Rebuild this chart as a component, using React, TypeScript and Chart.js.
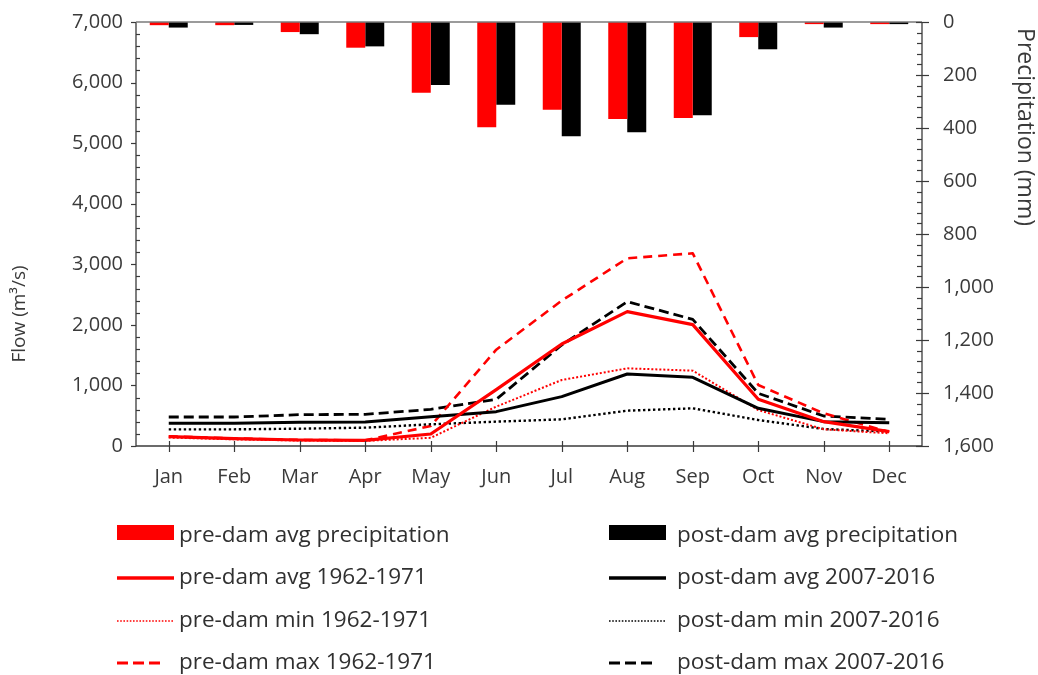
import { useEffect, useRef } from 'react';
import { Chart, registerables } from 'chart.js';

Chart.register(...registerables);

// Monthly categories
const months = ['Jan', 'Feb', 'Mar', 'Apr', 'May', 'Jun', 'Jul', 'Aug', 'Sep', 'Oct', 'Nov', 'Dec'];

// Average monthly precipitation (mm), right axis (reversed)
const precipPreDam = [12, 12, 38, 97, 267, 397, 331, 366, 362, 57, 8, 8];
const precipPostDam = [21, 11, 46, 92, 238, 312, 431, 416, 352, 103, 21, 8];

// Monthly flow (m³/s), left axis
const flowPreAvg = [154, 121, 99, 94, 198, 930, 1684, 2218, 2003, 771, 402, 237];
const flowPostAvg = [374, 374, 391, 396, 484, 567, 815, 1189, 1134, 622, 402, 385];
const flowPreMin = [140, 110, 90, 85, 135, 650, 1090, 1282, 1244, 594, 275, 209];
const flowPostMin = [275, 275, 286, 303, 358, 402, 440, 583, 622, 429, 281, 237];
const flowPreMax = [160, 125, 100, 94, 330, 1590, 2400, 3099, 3181, 1007, 539, 231];
const flowPostMax = [479, 479, 517, 523, 605, 770, 1667, 2383, 2091, 870, 495, 440];

// Axis ranges
const flowMax = 7000;
const flowStep = 1000;
const flowMinorStep = 200;
const precipMax = 1600;
const precipStep = 200;
const precipMinorStep = 40;

const FONT = '"Open Sans", "Noto Sans", sans-serif';
const TEXT = '#3a3a3a';
const AXIS = '#3a3a3a';
const RED = '#ff0000';
const BLACK = '#000000';

const fmt = (v: number) => Math.round(v).toLocaleString('en-US');

type Swatch = 'box' | 'solid' | 'dot' | 'dash';

// Axis lines, tick marks, axis titles and the two-column legend
const decorPlugin = {
  id: 'decor',
  afterDraw(chart: any) {
    const { ctx, chartArea: a, scales } = chart;
    const seg = (x1: number, y1: number, x2: number, y2: number) => {
      ctx.beginPath();
      ctx.moveTo(x1, y1);
      ctx.lineTo(x2, y2);
      ctx.stroke();
    };
    ctx.save();
    ctx.strokeStyle = AXIS;
    ctx.lineWidth = 1.3;
    ctx.setLineDash([]);
    seg(a.left, a.top, a.left, a.bottom + 0.5);
    seg(a.right, a.top, a.right, a.bottom + 0.5);
    seg(a.left, a.bottom, a.right, a.bottom);
    ctx.strokeStyle = '#7a7a7a';
    seg(a.left, a.top, a.right, a.top);
    ctx.strokeStyle = AXIS;
    ctx.lineWidth = 1.2;

    const y = scales.y;
    for (let v = 0; v <= flowMax; v += flowMinorStep) {
      const py = Math.round(y.getPixelForValue(v)) + 0.5;
      if (v % flowStep === 0) seg(a.left - 5, py, a.left, py);
      else seg(a.left, py, a.left + 4, py);
    }
    const y2 = scales.y2;
    for (let v = 0; v <= precipMax; v += precipMinorStep) {
      const py = Math.round(y2.getPixelForValue(v)) + 0.5;
      if (v % precipStep === 0) seg(a.right - 6, py, a.right + 7, py);
      else seg(a.right - 5, py, a.right, py);
    }
    const x = scales.x;
    months.forEach((_, i) => {
      const px = Math.round(x.getPixelForValue(i)) + 0.5;
      seg(px, a.bottom - 5, px, a.bottom + 6);
    });

    // Axis titles
    ctx.fillStyle = TEXT;
    ctx.textBaseline = 'middle';
    ctx.textAlign = 'center';
    ctx.font = `19px ${FONT}`;
    ctx.save();
    ctx.translate(20, 314);
    ctx.rotate(-Math.PI / 2);
    ctx.fillText('Flow (m³/s)', 0, 0);
    ctx.restore();
    ctx.save();
    ctx.font = `23px ${FONT}`;
    ctx.translate(1025, 127);
    ctx.rotate(Math.PI / 2);
    ctx.fillText('Precipitation (mm)', 0, 0);
    ctx.restore();

    // Legend: two columns, four rows
    const colSwatchX = [117, 609];
    const colTextX = [179, 677];
    const rowBase = [542, 584, 627, 669];
    ctx.font = `22.5px ${FONT}`;
    ctx.textAlign = 'left';
    ctx.textBaseline = 'alphabetic';
    chart.data.datasets.forEach((ds: any, i: number) => {
      const col = i % 2;
      const row = Math.floor(i / 2);
      const sx = colSwatchX[col];
      const base = rowBase[row];
      const kind: Swatch = ds.swatch;
      const color = ds.type === 'bar' ? ds.backgroundColor : ds.borderColor;
      if (kind === 'box') {
        ctx.fillStyle = color;
        ctx.fillRect(sx, base - 17, 57, 15);
      } else {
        ctx.strokeStyle = color;
        ctx.lineCap = 'butt';
        if (kind === 'solid') {
          ctx.lineWidth = 3.5;
          ctx.setLineDash([]);
          seg(sx, base - 6, sx + 57, base - 6);
        } else if (kind === 'dot') {
          ctx.lineWidth = 1.6;
          ctx.setLineDash([1.6, 1.6]);
          seg(sx, base - 6, sx + 57, base - 6);
        } else {
          ctx.lineWidth = 3;
          ctx.setLineDash([11, 5]);
          seg(sx, base - 6, sx + 43, base - 6);
        }
        ctx.setLineDash([]);
      }
      ctx.fillStyle = '#303030';
      ctx.fillText(ds.label, colTextX[col], base);
    });
    ctx.restore();
  },
};

// Fixed axis sizes so the plot area sits at a set place on the canvas
const fixVertical = (width: number) => (s: any) => {
  s.width = width;
  s.paddingTop = 0;
  s.paddingBottom = 0;
};

export default function App() {
  const canvasRef = useRef<HTMLCanvasElement | null>(null);

  useEffect(() => {
    const canvas = canvasRef.current;
    if (!canvas) return;

    const line = (label: string, data: number[], color: string, swatch: Swatch, width: number, dash: number[]) => ({
      type: 'line' as const,
      label,
      data,
      yAxisID: 'y',
      borderColor: color,
      backgroundColor: color,
      borderWidth: width,
      borderDash: dash,
      borderCapStyle: 'butt' as const,
      borderJoinStyle: 'round' as const,
      pointRadius: 0,
      tension: 0,
      fill: false,
      swatch,
    });

    const bar = (label: string, data: number[], color: string) => ({
      type: 'bar' as const,
      label,
      data,
      yAxisID: 'y2',
      backgroundColor: color,
      borderWidth: 0,
      categoryPercentage: 0.58,
      barPercentage: 1,
      swatch: 'box' as Swatch,
    });

    const chart = new Chart(canvas, {
      type: 'bar',
      data: {
        labels: months,
        datasets: [
          bar('pre-dam avg precipitation', precipPreDam, RED),
          bar('post-dam avg precipitation', precipPostDam, BLACK),
          line('pre-dam avg 1962-1971', flowPreAvg, RED, 'solid', 3.2, []),
          line('post-dam avg 2007-2016', flowPostAvg, BLACK, 'solid', 3, []),
          line('pre-dam min 1962-1971', flowPreMin, RED, 'dot', 2, [2, 2]),
          line('post-dam min 2007-2016', flowPostMin, BLACK, 'dot', 2.4, [2.4, 2.6]),
          line('pre-dam max 1962-1971', flowPreMax, RED, 'dash', 2.6, [9, 6]),
          line('post-dam max 2007-2016', flowPostMax, BLACK, 'dash', 2.8, [10, 5]),
        ] as any,
      },
      options: {
        responsive: false,
        devicePixelRatio: 1,
        animation: false,
        layout: { padding: { top: 22, bottom: 179, left: 0, right: 0 } },
        plugins: {
          legend: { display: false },
          tooltip: { enabled: false },
        },
        scales: {
          x: {
            type: 'category',
            offset: true,
            grid: { display: false, drawTicks: false },
            border: { display: false },
            ticks: { font: { family: FONT, size: 20 }, color: TEXT, padding: 19, maxRotation: 0 },
            afterFit: (s: any) => {
              s.height = 50;
              s.paddingLeft = 0;
              s.paddingRight = 0;
            },
          },
          y: {
            position: 'left',
            min: 0,
            max: flowMax,
            grid: { display: false, drawTicks: false },
            border: { display: false },
            ticks: { stepSize: flowStep, font: { family: FONT, size: 20 }, color: TEXT, padding: 13, callback: (v: any) => fmt(Number(v)) },
            afterFit: fixVertical(136),
          },
          y2: {
            position: 'right',
            reverse: true,
            min: 0,
            max: precipMax,
            grid: { display: false, drawTicks: false },
            border: { display: false },
            ticks: { stepSize: precipStep, font: { family: FONT, size: 20 }, color: TEXT, padding: 21, callback: (v: any) => fmt(Number(v)) },
            afterFit: fixVertical(116),
          },
        },
      } as any,
      plugins: [decorPlugin],
    });

    return () => chart.destroy();
  }, []);

  return (
    <div style={{ position: 'absolute', left: 0, top: 0, width: 1038, height: 675, background: '#ffffff' }}>
      <canvas ref={canvasRef} width={1038} height={675} />
    </div>
  );
}
